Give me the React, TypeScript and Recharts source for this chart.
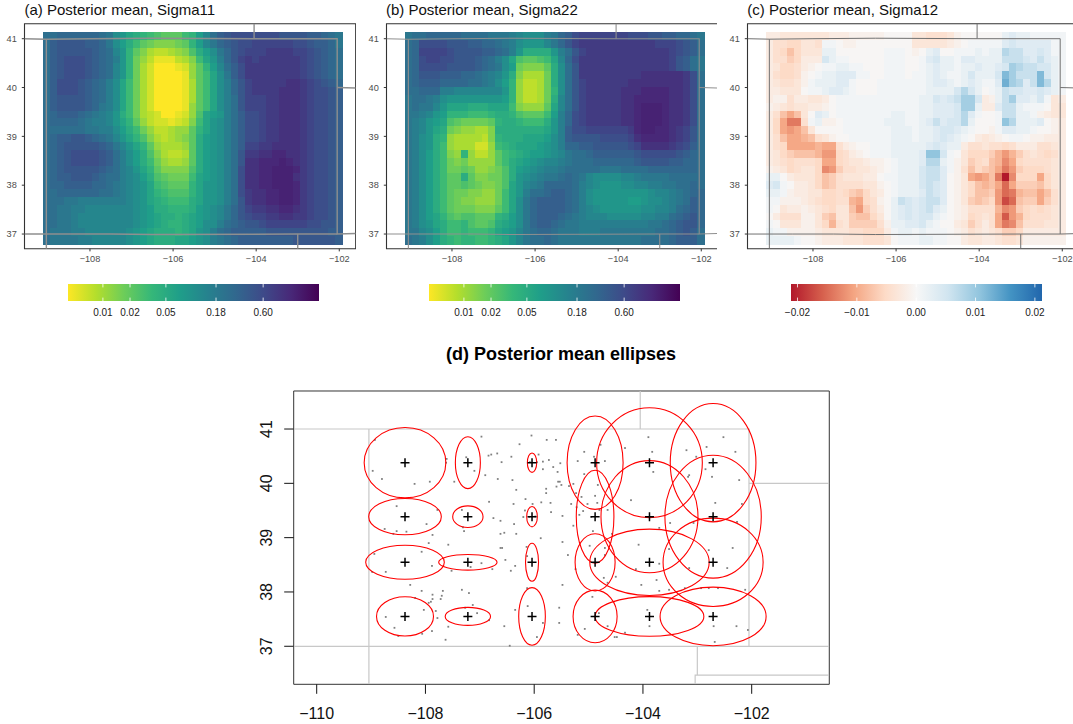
import { ScatterChart, Scatter, XAxis, YAxis, ReferenceArea, ReferenceLine } from 'recharts';

const FONT = '"Liberation Sans", Arial, sans-serif';

// Legend ramps, low end first
const viridisRamp = ['#fde725', '#b4de2c', '#6dcd59', '#35b779', '#1f9e89', '#26828e', '#31688e', '#3e4a89', '#482878', '#440154'];
const rdbuRamp = ['#b2182b', '#d6604d', '#f4a582', '#fddbc7', '#f7f7f7', '#d1e5f0', '#92c5de', '#4393c3', '#2166ac'];

// Which level (0-35) sits on each ramp colour when the grids below are decoded
const viridisLevels = [0, 3.5, 7, 10.5, 14, 17.5, 21, 24.5, 28, 35];
const rdbuLevels = [0, 4.4, 8.75, 13, 18.3, 22.5, 26, 30.6, 35];

const sigmaTicks = [0.01, 0.02, 0.05, 0.18, 0.6];
const sigmaRange = [0.0041, 2.5];
const crossTicks = [-0.02, -0.01, 0, 0.01, 0.02];
const crossRange = [-0.0211, 0.0212];

// Heat grid: 43 columns by 27 rows, north to south. Each character is a level 0-z along the legend.
const sigma11Rows = [
  'kkllllllkj gfdcba9888 abehkmnooo oooonnnnmm lkj',
  'kmnnnnmmlj geca876667 8behjlmnoo ppppppoonm mlj',
  'kmnnnnnmlk hfb8643345 69cegjlnop ppqqqqppon mlk',
  'kmnooonmlk ifb7531113 46adfilnpq pqqqqqqpon mlk',
  'kmnooonmlk hfb7420001 258behkmoq qqqqqqqpon mlk',
  'kmnooonmlk hfb7420000 158adgjmoq qqqqqqqpon mlk',
  'kmooonmlki gda7420000 148adgilnp qqqqqrrqpo nml',
  'kmooonmlki gda7420000 148adgilnp qqqqrrrqpo onm',
  'kmnnnnmlki gda7420000 148adgiknp ppqqrrrqpo onm',
  'kmnnnnmlji gda7420000 158adgiknp ppqqrrrqpo onm',
  'klmmmlkjih fca7432001 259defikmo opqqrrrqpo onm',
  'kllllkjiih fdb8532212 36adfgikmo opqqrrrqpo onm',
  'kkkkkkjjii geca753345 58bdfgikmo opqqrrrqpo onm',
  'klmmnnmlkj hfdb964345 68cefgikmo opqqrrrqpo onm',
  'klmnnnnnml jhfdb85444 58cefgikmp pqqrrrrqpo onm',
  'klmnoooonm kigec96433 48cefgiknq qrrssrrqpo onm',
  'klmnoooonm kigeca7544 58cefgiknr rssstsrqpo onm',
  'klmnnnnnml kihfdb8666 69cefgikor rsstttsqpo onm',
  'klmmnnnmlk kihgec9877 7adefgikor rsstttrqpo onm',
  'kllmmmmllk jihgfda988 8bdffgikor rsstttsqpo onm',
  'kkllllllkk jihgfdba99 9bdffgikoq rrssttsqpo onm',
  'kkkjjiiiii iihgfdcbaa acdffgiknq rrssttsqpo onm',
  'kkjjiihhhh hhhgfeccbb bcefghjlnp qqrrssrqpo onm',
  'kkjjihhhhh hhhgfedccb cdefghjlno ppqqrrqqpo onm',
  'kkjjihhhhh hhhgfedcbb cdeggiklmn noppppppoo nnm',
  'kjjjiihhhh hhgfedcccb cdfgiklmmm mmnnnnnnnn nmm',
  'kjjjjiihhh hhgfedcccd defgijklmm mmmmmmnnnn nnm',
];

const sigma22Rows = [
  'jkklllllkk kkjjjihggg ijlmoppppp ppooonnmml lkj',
  'kloooonnnm mllkjigfff hjlnpqqqqq qqqqqqpppo nmk',
  'klpppponnn nmmlkifccc cfiknpqqqq qqqqqqqqpo nmk',
  'kloppoonnn mlkigd9889 adhloqqqqq qqqqqqqqpn mkj',
  'kloooonnnn mlkjge7666 8cgknqqqqq qqqqqqqqpn mkj',
  'klnnnmmmll kjihfc6444 7cgknqqqqq qqqqrrrrrr qok',
  'klmmmllllk kjigeb5334 7cgknpqqqq qqrrrrrrrr qok',
  'kkllliihhh hhhhfb5334 7bgknpqqqq qrrrssssrr qok',
  'jkkjigffff ffffeb5334 7chknpqqqq qrrsssssrr qok',
  'jkjjhfdddc ccddda6555 8dhknpqqqq qrrstttsrr qok',
  'jjihfebbba aabccb9888 aeilopqqqq qrrstttsrr qok',
  'jihfed9877 778bccbaaa cfilopqqqq qrrstttsrr qok',
  'jihfdc7655 446ccccccc dfimoopppp ppqsttssrq pnk',
  'jigfcb5444 436bcccddd egimnnnnoo ooprssssrq pnk',
  'jigfca5444 225abcddde fgillmmnnn nnoprrrrqp omk',
  'jigeca65b5 3358abcdee fghjkklmmm mmmnooooon mlk',
  'jigeca7675 5558acdefg hhijkkklll lllmnnnnmm llk',
  'jigeca7787 55679cefgh iijkkkkkjj jkkkklllll llk',
  'jigeca88c8 66779cfghi jjklkjhggg ghhijjjjkk kkk',
  'jigeca8898 76679dfhij llllkihgff fgghhiijjk klk',
  'jigeca8776 6557adfikk lmmlkigfff fffffghhij kll',
  'jigeca8766 5557adgjlm mmmlkigfff ffeefgghij kml',
  'jigeca8777 6668adgjlm mmmlkihgff ffffgghhik lml',
  'jigedb9899 888bcegjlm mmlkjihhhg gggghhiikl mnl',
  'jigfdcaab9 889cdegjlm mlkjjiiiii iiiiijjklm nnl',
  'jjhgecaaba aabdefhjkl lkjjjiiijj jjjjjjkklm nmk',
  'kjigecbabb aabcdfhjkk lkjjjjjjjj jjjjkkkklm mmk',
];

const sigma12Rows = [
  'ggfffffffg gghhhhhiii iffeeefhii iiiiklkkjj jjj',
  'geeddffejj ihhiiiiiii ifffffghij jjjjlmllll ljj',
  'gedbdfffkk iiiiiiijjj ihikliijjj kjkkonnllm ljj',
  'geecdgggmk jjiiiiijjj iijlmkkjll kkkknnnmln lkj',
  'gfddeghijj kkjjiiijjj iijklkkjkk lkklmponnm mkj',
  'geddehijkk llljjiijjj ijjklkjjkm kkkmrpnnnr mkj',
  'gfeefhjkkk lljiiijjjj jjjkllkjkl kjjlspolnr okj',
  'ggfffijjkl lkjiiijjjj jjjkkkkmom kijknmmllm lkj',
  'ghheggffgi jjjjjjjjjj jjkkmlmnpp mghknpllkm jfg',
  'hgfeffgghi jjjjjjjjjj jjkklllmpp kgglnnkjjj iff',
  'geb9bfilki jjjjjjjjkk jjkklllmol jiijnnkkjh gff',
  'gd966ejkhh ijjjjjjkkk jjklnlmmok iiijqokkkl ihg',
  'gd989bfiii ijjjjjjjkk kjkklmmlkj iihjllkkji ihg',
  'geb99abefh iijjjjjjkk kjkklmlkji gfghijjihh ggg',
  'ged9999a99 eghiijjjkk kkklmlkkge efeedeggge efg',
  'gfdcbbba88 deghijjjkk kklqqmjifd ddca8acefe deg',
  'gfedeeed99 deffghhijk kklookjhfc deba79deee efg',
  'hgfdeffd78 ceeffghijk kkmnnljheb dcb968cddd efg',
  'kkigfffdbc efffggijjk kkmnnlihf9 89b607ddd9 dfg',
  'lmjiggfdbc eeeeffhijk kkmnmlihfd bab959cccb dfg',
  'kkjhggffdd edcbdfgijk kklnmlihfd bbc856abb9 beg',
  'jjhhhgfedd eea9dehikn mlmnnlihfc bcd835bcc9 ceg',
  'jifgghgfed ffb8cegikl mlmnlkihge eeea78cded efg',
  'igeeehhfcb ffcbbdfikl mlmmkjihgd efe948adee efg',
  'jifffhhfda efccccehkk llmkjiigfc ege967beee ffg',
  'kjjhhhhgff ffeedddgjk kjkjjjihge fgfeccdggg ggg',
  'kkkkjiihgg gfffeeefij jjkkjjiigf fggfeefhhh hhh',
];

// State borders in lon/lat
const borderLines: number[][][] = [
  [[-109.576, 41], [-109.05, 40.99], [-108, 41.0], [-106.5, 41.01], [-104.05, 41], [-102.05, 41], [-102.05, 37], [-101.605, 37.01]],
  [[-109.05, 40.99], [-109.05, 36.7]],
  [[-104.05, 41], [-104.05, 41.307]],
  [[-102.05, 40.0], [-101.605, 39.99]],
  [[-109.576, 37], [-108.5, 37], [-107.5, 37], [-106.5, 36.99], [-103, 37], [-102.05, 37]],
  [[-103, 37], [-103, 36.7]],
];

const mapLines: number[][][] = [
  [[-110.423, 41], [-104.05, 41], [-102.05, 41], [-102.05, 37]],
  [[-109.04, 41], [-109.04, 36.3]],
  [[-104.05, 41], [-104.05, 41.7]],
  [[-102.05, 40], [-100.573, 40]],
  [[-110.423, 37], [-100.573, 37]],
  [[-103, 37], [-103, 36.47]],
  [[-100.573, 36.47], [-103.04, 36.47], [-103.04, 36.3]],
];

const gridLons = [-108.376, -107.22, -106.04, -104.88, -103.88, -102.71];
const gridLats = [40.38, 39.386, 38.546, 37.55];

// Ellipse half-widths and half-heights in degrees, one row per grid latitude
const ellipseHalfLon = [
  [0.751, 0.23, 0.086, 0.515, 0.972, 0.788],
  [0.668, 0.279, 0.098, 0.346, 0.892, 0.886],
  [0.723, 0.537, 0.12, 0.368, 1.098, 0.92],
  [0.524, 0.417, 0.245, 0.405, 1.0, 0.975],
];
const ellipseHalfLat = [
  [0.647, 0.478, 0.178, 0.859, 1.012, 1.089],
  [0.334, 0.199, 0.187, 0.855, 1.033, 1.131],
  [0.313, 0.144, 0.35, 0.527, 0.61, 0.813],
  [0.362, 0.166, 0.53, 0.484, 0.365, 0.539],
];

const stationPoints = [
  [-108.93, 40.8], [-108.97, 40.23], [-108.8, 40.08], [-108.2, 39.99], [-107.92, 40.03], [-107.61, 40.45], [-107.62, 40.38],
  [-107.25, 40.48], [-107.1, 40.23], [-107.47, 40.03], [-106.97, 40.86], [-106.84, 40.51], [-106.79, 40.53], [-106.68, 40.55],
  [-106.6, 40.39], [-106.9, 40.15], [-106.67, 40.08], [-106.42, 40.49], [-106.4, 40.06], [-106.33, 39.88], [-106.27, 40.72],
  [-106.05, 40.88], [-105.77, 40.8], [-105.6, 40.8], [-105.92, 40.53], [-105.84, 40.4], [-105.73, 40.43], [-105.84, 40.26],
  [-105.65, 40.3], [-105.57, 40.21], [-105.56, 40.03], [-105.78, 39.9], [-105.78, 39.82], [-105.59, 39.94], [-106.08, 40.39],
  [-105.95, 40.39], [-108.53, 39.58], [-107.78, 39.51], [-107.98, 39.25], [-108.75, 39.16], [-108.53, 39.12], [-108.35, 39.11],
  [-108.59, 39.07], [-107.87, 39.05], [-107.33, 39.51], [-107.31, 39.19], [-107.29, 39.12], [-106.83, 39.66], [-106.75, 39.36],
  [-106.62, 39.31], [-106.38, 39.62], [-106.37, 39.25], [-106.16, 39.71], [-106.03, 39.62], [-105.87, 39.65], [-105.7, 39.64],
  [-105.69, 39.47], [-106.17, 39.5], [-106.2, 39.38], [-106.09, 39.38], [-105.98, 39.39], [-106.62, 39.07], [-106.55, 39.09],
  [-106.33, 39.07], [-105.88, 38.99], [-107.94, 38.9], [-107.58, 38.87], [-108.07, 38.74], [-108.94, 38.7], [-107.88, 38.48],
  [-108.73, 38.37], [-108.98, 38.37], [-107.52, 38.39], [-106.62, 38.81], [-106.59, 38.81], [-106.53, 38.59], [-106.97, 38.53],
  [-106.77, 38.42], [-106.43, 38.39], [-106.35, 38.48], [-106.14, 38.83], [-106.13, 38.66], [-107.17, 38.46], [-108.28, 38.13],
  [-108.07, 38.02], [-108.19, 37.89], [-107.68, 38.02], [-107.87, 37.95], [-107.7, 37.93], [-107.87, 37.87], [-107.72, 37.87],
  [-107.9, 37.82], [-107.94, 37.8], [-108.03, 37.67], [-107.81, 37.65], [-107.78, 37.52], [-108.73, 37.54], [-108.57, 37.34],
  [-108.5, 37.19], [-108.06, 37.23], [-107.88, 37.28], [-107.58, 37.36], [-107.33, 38.04], [-107.2, 37.98], [-107.13, 37.76],
  [-107.27, 37.71], [-107.05, 37.61], [-106.83, 37.48], [-106.55, 37.37], [-107.63, 37.12], [-106.45, 37.01], [-106.35, 37.67],
  [-106.13, 38.07], [-106.12, 37.74], [-105.84, 37.43], [-105.95, 37.17], [-105.54, 37.71], [-105.54, 37.43],
  [-105.52, 40.37], [-105.53, 40.03], [-105.5, 39.97], [-105.2, 40.41], [-105.08, 40.58], [-104.9, 40.49], [-104.78, 40.71],
  [-104.7, 40.41], [-105.08, 40.17], [-105.28, 39.99], [-105.36, 39.95], [-104.83, 39.97], [-105.23, 39.82], [-105.13, 39.75],
  [-105.32, 39.62], [-105.22, 39.56], [-105.17, 39.42], [-105.02, 39.62], [-105.1, 39.49], [-104.88, 39.77], [-104.84, 39.64],
  [-104.8, 39.51], [-104.65, 39.51], [-104.95, 39.38], [-105.48, 39.4], [-105.28, 39.22], [-104.92, 39.12], [-104.57, 39.07],
  [-105.48, 38.92], [-105.38, 38.68], [-104.98, 38.85], [-104.7, 38.81], [-104.7, 38.68], [-105.24, 38.42], [-105.48, 38.13],
  [-104.72, 38.26], [-104.5, 38.28], [-104.65, 38.17], [-104.93, 37.91], [-104.81, 37.61], [-104.65, 37.37], [-105.07, 37.32],
  [-105.2, 37.21], [-104.33, 37.25], [-104.52, 37.17], [-104.48, 37.17], [-103.9, 40.85], [-103.83, 40.58], [-104.33, 40.65],
  [-103.81, 40.21], [-104.22, 39.69], [-103.7, 39.18], [-103.5, 39.27], [-104.08, 38.87], [-103.52, 38.79], [-103.7, 38.52],
  [-104.13, 38.42], [-104.03, 38.13], [-103.75, 38.22], [-103.7, 38.02], [-103.52, 38.04], [-103.92, 37.67], [-103.88, 37.37],
  [-103.2, 40.61], [-103.02, 40.49], [-102.83, 40.67], [-102.52, 40.85], [-102.3, 40.58], [-102.85, 40.26], [-103.17, 40.12],
  [-103.15, 40.15], [-102.73, 40.12], [-102.23, 40.06], [-102.67, 39.64], [-102.18, 39.62], [-103.07, 39.27], [-103.15, 38.44],
  [-102.79, 38.77], [-102.35, 38.81], [-102.45, 38.44], [-103.23, 38.07], [-102.93, 38.07], [-102.79, 38.07], [-102.62, 38.07],
  [-102.12, 38.04], [-102.27, 39.29], [-102.7, 37.37], [-102.28, 37.37], [-102.07, 37.3], [-102.68, 37.08],
];

const heatXTicks = [-108, -106, -104, -102];
const heatYTicks = [37, 38, 39, 40, 41];
const mapXTicks = [-110, -108, -106, -104, -102];

const heatXDomain = [-109.576, -101.605];
const heatYDomain = [36.7, 41.307];
const GRID_WEST = -109.13;
const GRID_NORTH = 41.137;
const CELL_LON = 7.195 / 43;
const CELL_LAT = 4.342 / 27;

const minus = (v: number | string) => String(v).replace('-', '\u2212');

function levelColor(ramp: string[], anchors: number[], level: number) {
  let i = 0;
  while (i < anchors.length - 2 && level > anchors[i + 1]) i++;
  const f = Math.min(Math.max((level - anchors[i]) / (anchors[i + 1] - anchors[i]), 0), 1);
  const ch = (hex: string, at: number) => parseInt(hex.slice(at, at + 2), 16);
  const out = [1, 3, 5].map((at) => Math.round(ch(ramp[i], at) * (1 - f) + ch(ramp[i + 1], at) * f));
  return `rgb(${out.join(',')})`;
}

function cellsFrom(rows: string[]) {
  const cells: { x: number; y: number; level: number }[] = [];
  rows.forEach((row, j) => {
    row.replace(/ /g, '').split('').forEach((ch, i) => {
      cells.push({
        x: GRID_WEST + (i + 0.5) * CELL_LON,
        y: GRID_NORTH - (j + 0.5) * CELL_LAT,
        level: parseInt(ch, 36),
      });
    });
  });
  return cells;
}

const toLine = (pts: number[][]) => pts.map(([x, y]) => ({ x, y }));

const Nothing = () => null;

function HeatPanel({ offset, title, rows, ramp, anchors, borderColor, borderWidth }: {
  offset: number; title: string; rows: string[]; ramp: string[]; anchors: number[]; borderColor: string; borderWidth: number;
}) {
  const plotW = 331.2;
  const plotH = 225;
  const cellW = CELL_LON * (plotW / (heatXDomain[1] - heatXDomain[0]));
  const cellH = CELL_LAT * (plotH / (heatYDomain[1] - heatYDomain[0]));
  const axisText = { fill: '#4d4d4d', fontSize: 9.2, fontFamily: FONT };
  return (
    <div style={{ position: 'absolute', left: offset, top: 0 }}>
      <div style={{ position: 'absolute', left: 24.5, top: 1, whiteSpace: 'nowrap', font: `15px ${FONT}`, color: '#111' }}>{title}</div>
      <ScatterChart width={24.5 + plotW} height={23.7 + plotH + 22} margin={{ top: 23.7, right: 0, bottom: 0, left: 0 }}>
        <XAxis
          type="number"
          dataKey="x"
          domain={heatXDomain}
          allowDataOverflow
          ticks={heatXTicks}
          interval={0}
          height={22}
          tickSize={2.7}
          tickMargin={4}
          axisLine={false}
          stroke="#333"
          tick={axisText}
          tickFormatter={minus}
        />
        <YAxis
          type="number"
          dataKey="y"
          domain={heatYDomain}
          allowDataOverflow
          ticks={heatYTicks}
          interval={0}
          width={24.5}
          tickSize={2.7}
          tickMargin={5}
          axisLine={false}
          stroke="#333"
          tick={axisText}
        />
        <Scatter
          data={cellsFrom(rows)}
          isAnimationActive={false}
          shape={(p: any) => (
            <rect
              x={p.cx - cellW / 2}
              y={p.cy - cellH / 2}
              width={cellW + 0.6}
              height={cellH + 0.6}
              shapeRendering="crispEdges"
              fill={levelColor(ramp, anchors, p.payload.level)}
            />
          )}
        />
        {borderLines.map((pts, i) => (
          <Scatter
            key={i}
            data={toLine(pts)}
            isAnimationActive={false}
            line={{ stroke: borderColor, strokeWidth: borderWidth }}
            shape={Nothing}
          />
        ))}
        <ReferenceArea
          x1={heatXDomain[0]}
          x2={heatXDomain[1]}
          y1={heatYDomain[0]}
          y2={heatYDomain[1]}
          fill="none"
          fillOpacity={0}
          stroke="#333"
          strokeWidth={1.1}
        />
      </ScatterChart>
    </div>
  );
}

function ColorBar({ id, left, ramp, ticks, range, log, digits }: {
  id: string; left: number; ramp: string[]; ticks: number[]; range: number[]; log: boolean; digits: number;
}) {
  const pad = 16;
  return (
    <div style={{ position: 'absolute', left: left - pad, top: 284 }}>
      <ScatterChart width={251 + pad * 2} height={36} margin={{ top: 0, right: pad, bottom: 0, left: pad }}>
        <defs>
          <linearGradient id={id} x1="0" y1="0" x2="1" y2="0">
            {ramp.map((c, i) => (
              <stop key={c} offset={`${(i / (ramp.length - 1)) * 100}%`} stopColor={c} />
            ))}
          </linearGradient>
        </defs>
        <XAxis
          type="number"
          dataKey="x"
          scale={log ? 'log' : 'linear'}
          domain={range}
          allowDataOverflow
          ticks={ticks}
          interval={0}
          height={19}
          tickLine={false}
          axisLine={false}
          tickMargin={2}
          tick={{ fill: '#1a1a1a', fontSize: 10, fontFamily: FONT }}
          tickFormatter={(v: number) => minus(v.toFixed(digits))}
        />
        <YAxis type="number" dataKey="y" domain={[0, 1]} hide />
        <Scatter data={ticks.map((x) => ({ x, y: 0.5 }))} isAnimationActive={false} shape={Nothing} />
        <ReferenceArea x1={range[0]} x2={range[1]} y1={0} y2={1} fill={`url(#${id})`} fillOpacity={1} stroke="none" />
        {ticks.map((t) => (
          <ReferenceLine key={`b${t}`} segment={[{ x: t, y: 0 }, { x: t, y: 0.2 }]} stroke="#fff" strokeWidth={0.8} />
        ))}
        {ticks.map((t) => (
          <ReferenceLine key={`t${t}`} segment={[{ x: t, y: 0.8 }, { x: t, y: 1 }]} stroke="#fff" strokeWidth={0.8} />
        ))}
      </ScatterChart>
    </div>
  );
}

function EllipsePanel() {
  const plotLeft = 293.7;
  const plotTop = 391;
  const plotW = 535.6;
  const plotH = 293.3;
  const xDomain = [-110.423, -100.573];
  const yDomain = [36.3, 41.7];
  const pxLon = plotW / (xDomain[1] - xDomain[0]);
  const pxLat = plotH / (yDomain[1] - yDomain[0]);
  const centres = gridLats.flatMap((y, r) =>
    gridLons.map((x, c) => ({ x, y, rx: ellipseHalfLon[r][c], ry: ellipseHalfLat[r][c] })),
  );
  const labelStyle = { fill: '#111', fontSize: 16, fontFamily: FONT };
  return (
    <div style={{ position: 'absolute', left: 0, top: 0 }}>
      <ScatterChart
        width={plotLeft + plotW + 2}
        height={plotTop + plotH + 39}
        margin={{ top: plotTop, right: 2, bottom: 0, left: 0 }}
      >
        <XAxis
          type="number"
          dataKey="x"
          domain={xDomain}
          allowDataOverflow
          ticks={mapXTicks}
          interval={0}
          height={39}
          tickSize={9.5}
          tickMargin={14}
          axisLine={false}
          stroke="#111"
          tick={labelStyle}
          tickFormatter={minus}
        />
        <YAxis
          type="number"
          dataKey="y"
          domain={yDomain}
          allowDataOverflow
          ticks={heatYTicks}
          interval={0}
          width={plotLeft}
          tickSize={9.5}
          axisLine={false}
          stroke="#111"
          tick={(p: any) => (
            <text
              x={p.x - 10}
              y={p.y}
              textAnchor="middle"
              transform={`rotate(-90 ${p.x - 10} ${p.y})`}
              fill="#111"
              fontSize={16}
              fontFamily={FONT}
            >
              {p.payload.value}
            </text>
          )}
        />
        {mapLines.map((pts, i) => (
          <Scatter
            key={i}
            data={toLine(pts)}
            isAnimationActive={false}
            line={{ stroke: '#c8c8c8', strokeWidth: 1.2 }}
            shape={Nothing}
          />
        ))}
        <Scatter
          data={toLine(stationPoints)}
          isAnimationActive={false}
          shape={(p: any) => <rect x={p.cx - 0.9} y={p.cy - 0.9} width={1.8} height={1.8} fill="#808080" />}
        />
        <Scatter
          data={centres}
          isAnimationActive={false}
          shape={(p: any) => (
            <ellipse
              cx={p.cx}
              cy={p.cy}
              rx={p.payload.rx * pxLon}
              ry={p.payload.ry * pxLat}
              fill="none"
              stroke="#ff0000"
              strokeWidth={1.1}
            />
          )}
        />
        <Scatter
          data={centres}
          isAnimationActive={false}
          shape={(p: any) => (
            <path
              d={`M${p.cx - 4.5} ${p.cy}H${p.cx + 4.5}M${p.cx} ${p.cy - 4.5}V${p.cy + 4.5}`}
              stroke="#000"
              strokeWidth={1.5}
              fill="none"
            />
          )}
        />
        <ReferenceArea
          x1={xDomain[0]}
          x2={xDomain[1]}
          y1={yDomain[0]}
          y2={yDomain[1]}
          fill="none"
          fillOpacity={0}
          stroke="#333"
          strokeWidth={1}
        />
      </ScatterChart>
    </div>
  );
}

export default function App() {
  return (
    <div style={{ position: 'fixed', left: 0, top: 0, width: 1073, height: 724, overflow: 'hidden', background: '#fff' }}>
      <HeatPanel offset={0} title="(a) Posterior mean, Sigma11" rows={sigma11Rows} ramp={viridisRamp} anchors={viridisLevels} borderColor="#8f8f8f" borderWidth={1.4} />
      <HeatPanel offset={361.5} title="(b) Posterior mean, Sigma22" rows={sigma22Rows} ramp={viridisRamp} anchors={viridisLevels} borderColor="#8f8f8f" borderWidth={1.1} />
      <HeatPanel offset={722.8} title="(c) Posterior mean, Sigma12" rows={sigma12Rows} ramp={rdbuRamp} anchors={rdbuLevels} borderColor="#707070" borderWidth={1} />
      <ColorBar id="barA" left={68} ramp={viridisRamp} ticks={sigmaTicks} range={sigmaRange} log digits={2} />
      <ColorBar id="barB" left={429} ramp={viridisRamp} ticks={sigmaTicks} range={sigmaRange} log digits={2} />
      <ColorBar id="barC" left={791} ramp={rdbuRamp} ticks={crossTicks} range={crossRange} log={false} digits={2} />
      <div
        style={{
          position: 'absolute',
          left: 0,
          width: 1122,
          top: 344,
          textAlign: 'center',
          font: `bold 18px ${FONT}`,
          color: '#000',
        }}
      >
        (d) Posterior mean ellipses
      </div>
      <EllipsePanel />
    </div>
  );
}
